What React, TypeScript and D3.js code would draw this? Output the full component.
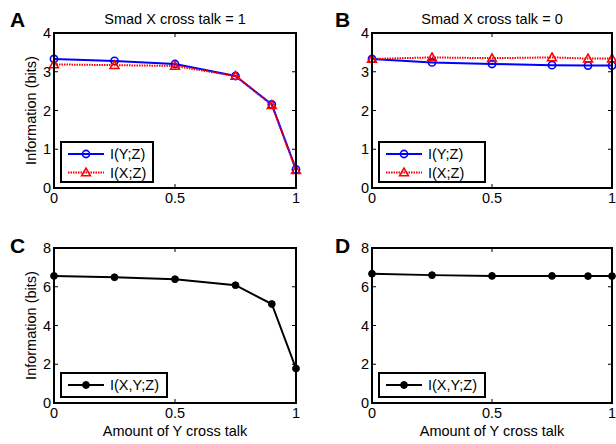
import * as d3 from 'd3';
import React from 'react';

// amount of Y cross talk (x axis)
const crossTalk = [0, 0.25, 0.5, 0.75, 0.9, 1];

// panel A: Smad X cross talk = 1
const aIYZ = [3.33, 3.28, 3.2, 2.89, 2.16, 0.48];
const aIXZ = [3.19, 3.17, 3.15, 2.89, 2.14, 0.46];
// panel B: Smad X cross talk = 0
const bIYZ = [3.33, 3.24, 3.2, 3.17, 3.16, 3.16];
const bIXZ = [3.33, 3.37, 3.35, 3.37, 3.34, 3.34];
// panels C / D: joint information
const cIXYZ = [6.56, 6.49, 6.39, 6.08, 5.11, 1.78];
const dIXYZ = [6.67, 6.6, 6.56, 6.56, 6.55, 6.55];

const xTicks = [0, 0.5, 1];
const xTickLabels = ['0', '0.5', '1'];
const yTicksTop = [0, 1, 2, 3, 4];
const yTicksBottom = [0, 2, 4, 6, 8];

const FONT = 'Liberation Sans, Arial, sans-serif';
const FS = 14.5;

type Series = { label: string; values: number[]; kind: 'blue' | 'red' | 'black' };

function Marker({ kind, x, y }: { kind: Series['kind']; x: number; y: number }) {
  if (kind === 'blue') {
    return <circle cx={x} cy={y} r={3.6} fill="none" stroke="#0000ff" strokeWidth={1.6} />;
  }
  if (kind === 'red') {
    const s = 4.4;
    return (
      <path
        d={`M${x},${y - s}L${x + s},${y + s * 0.75}L${x - s},${y + s * 0.75}Z`}
        fill="none"
        stroke="#ff0000"
        strokeWidth={1.6}
      />
    );
  }
  return <circle cx={x} cy={y} r={3.4} fill="#000" stroke="#000" />;
}

function lineStyle(kind: Series['kind']) {
  if (kind === 'blue') return { stroke: '#0000ff', strokeWidth: 2 };
  if (kind === 'red') return { stroke: '#ff0000', strokeWidth: 2, strokeDasharray: '1.5 1' };
  return { stroke: '#000', strokeWidth: 2 };
}

function Panel({
  left, top, width, height, yMax, yTicks, series, letter, letterX, letterY, title, showYLabel, showXLabel, legendW,
}: {
  left: number; top: number; width: number; height: number; yMax: number; yTicks: number[];
  series: Series[]; letter: string; letterX: number; letterY: number; title?: string;
  showYLabel: boolean; showXLabel: boolean; legendW: number;
}) {
  const x = d3.scaleLinear().domain([0, 1]).range([left, left + width]);
  const y = d3.scaleLinear().domain([0, yMax]).range([top + height, top]);
  const tick = 4;
  const legendH = series.length === 2 ? 40 : 24;
  const lx = left + 7;
  const ly = top + height - 6 - legendH;

  return (
    <g fontFamily={FONT}>
      <text x={letterX} y={letterY} fontSize={21} fontWeight="bold">{letter}</text>
      {title && (
        <text x={left + width / 2} y={top - 9} fontSize={FS} textAnchor="middle">{title}</text>
      )}
      {series.map((s) => {
        const line = d3.line<number>()
          .x((_, i) => x(crossTalk[i]))
          .y((d) => y(d));
        return (
          <g key={s.label}>
            <path d={line(s.values) ?? ''} fill="none" {...lineStyle(s.kind)} />
            {s.values.map((v, i) => (
              <Marker key={i} kind={s.kind} x={x(crossTalk[i])} y={y(v)} />
            ))}
          </g>
        );
      })}
      {/* ticks, inward on all four sides */}
      {xTicks.map((t, i) => (
        <g key={'x' + t}>
          <line x1={x(t)} x2={x(t)} y1={top + height} y2={top + height - tick} stroke="#000" />
          <line x1={x(t)} x2={x(t)} y1={top} y2={top + tick} stroke="#000" />
          <text x={x(t)} y={top + height + 15} fontSize={FS} textAnchor="middle">{xTickLabels[i]}</text>
        </g>
      ))}
      {yTicks.map((t) => (
        <g key={'y' + t}>
          <line x1={left} x2={left + tick} y1={y(t)} y2={y(t)} stroke="#000" />
          <line x1={left + width} x2={left + width - tick} y1={y(t)} y2={y(t)} stroke="#000" />
          <text x={left - 3} y={y(t) + 5} fontSize={FS} textAnchor="end">{t}</text>
        </g>
      ))}
      <rect x={left} y={top} width={width} height={height} fill="none" stroke="#000" strokeWidth={2} />
      {showYLabel && (
        <text
          transform={`translate(${left - 18},${top + height / 2}) rotate(-90)`}
          fontSize={FS}
          textAnchor="middle"
        >
          Information (bits)
        </text>
      )}
      {showXLabel && (
        <text x={left + width / 2} y={top + height + 33} fontSize={FS} textAnchor="middle">
          Amount of Y cross talk
        </text>
      )}
      {/* legend */}
      <rect x={lx} y={ly} width={legendW} height={legendH} fill="#fff" stroke="#000" strokeWidth={2} />
      {series.map((s, i) => {
        const ry = ly + 12 + i * 18.5;
        return (
          <g key={'lg' + s.label}>
            <line x1={lx + 7} x2={lx + 43} y1={ry} y2={ry} {...lineStyle(s.kind)} />
            <Marker kind={s.kind} x={lx + 25} y={ry} />
            <text x={lx + 49} y={ry + 5} fontSize={FS}>{s.label}</text>
          </g>
        );
      })}
    </g>
  );
}

export default function App() {
  const topSeriesA: Series[] = [
    { label: 'I(Y;Z)', values: aIYZ, kind: 'blue' },
    { label: 'I(X;Z)', values: aIXZ, kind: 'red' },
  ];
  const topSeriesB: Series[] = [
    { label: 'I(Y;Z)', values: bIYZ, kind: 'blue' },
    { label: 'I(X;Z)', values: bIXZ, kind: 'red' },
  ];
  return (
    <svg width={616} height={444} style={{ position: 'absolute', left: 0, top: 0, background: '#fff' }}>
      <rect width={616} height={444} fill="#fff" />
      <Panel left={54} top={33} width={242} height={155} yMax={4} yTicks={yTicksTop}
        series={topSeriesA} letter="A" letterX={10} letterY={27} title="Smad X cross talk = 1"
        showYLabel showXLabel={false} legendW={92} />
      <Panel left={372} top={33} width={240} height={155} yMax={4} yTicks={yTicksTop}
        series={topSeriesB} letter="B" letterX={335} letterY={27} title="Smad X cross talk = 0"
        showYLabel={false} showXLabel={false} legendW={106} />
      <Panel left={54} top={248} width={242} height={155} yMax={8} yTicks={yTicksBottom}
        series={[{ label: 'I(X,Y;Z)', values: cIXYZ, kind: 'black' }]} letter="C" letterX={10} letterY={253}
        showYLabel showXLabel legendW={106} />
      <Panel left={372} top={248} width={240} height={155} yMax={8} yTicks={yTicksBottom}
        series={[{ label: 'I(X,Y;Z)', values: dIXYZ, kind: 'black' }]} letter="D" letterX={335} letterY={253}
        showYLabel={false} showXLabel legendW={106} />
    </svg>
  );
}
